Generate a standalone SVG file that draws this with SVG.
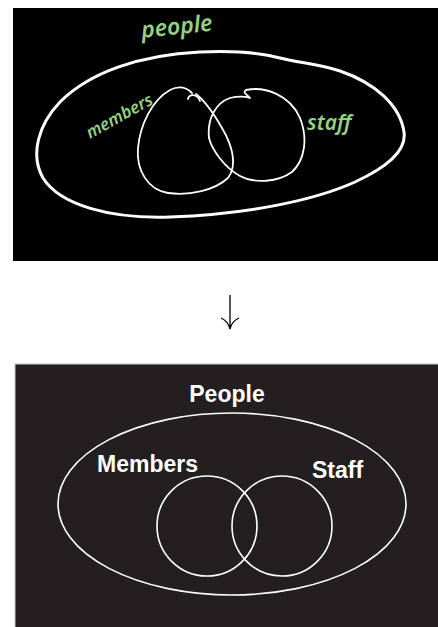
<svg xmlns="http://www.w3.org/2000/svg" width="438" height="627" viewBox="0 0 438 627">
<style>
.hand{fill:none;stroke:#fff;stroke-linecap:round;stroke-linejoin:round}
.ink{font-family:"Noto Sans","DejaVu Sans",sans-serif;font-style:italic;font-weight:600;fill:#94d081}
.shape{fill:none;stroke:#fff;stroke-width:1.6}
.lbl{font-family:"Liberation Sans",Arial,sans-serif;font-weight:bold;font-size:23px;fill:#fff}
</style>
<rect width="438" height="627" fill="#fff"/>
<g id="sketch">
<rect x="13" y="8" width="425" height="253" fill="#000"/>
<path class="hand" stroke-width="3" d="M200,52 C240,50 265,54 280,58 C300,63 320,64 340,71 C375,83 400,105 404,132 C407,152 385,168 355,182 C315,200 250,214 170,217 C110,219 60,205 43,178 C30,155 38,125 60,102 C90,72 140,55 200,52 Z"/>
<path class="hand" stroke-width="1.8" d="M192,93 C186,87 178,86 170,90 C152,100 140,125 138,148 C136,170 148,190 168,193 C190,196 215,190 228,178 C238,165 232,145 222,128 C214,114 205,101 196,94"/>
<path class="hand" stroke-width="1.8" d="M188,99 C189,94 197,93 200,101"/>
<path class="hand" stroke-width="1.8" d="M250,98 C247,94 242,93 246,90 C265,86 290,95 300,118 C308,138 305,160 292,172 C278,182 255,184 240,176 C225,168 212,150 209,138 C207,120 215,103 230,98 C238,96 244,96 250,98"/>
<text class="ink" x="142" y="38" font-size="23" transform="rotate(-6 142 38)">people</text>
<text class="ink" x="90" y="139" font-size="17" transform="rotate(-29 90 139)">members</text>
<text class="ink" x="307" y="130" font-size="21">staff</text>
</g>
<g id="connectors">
<path d="M230,295 V329 M221,318 Q228,321 230,329 Q232,321 239,318" fill="none" stroke="#000" stroke-width="1.3"/>
</g>
<g id="venn">
<rect x="15" y="364" width="430" height="270" fill="#231f20" stroke="#c8c8c8" stroke-width="1"/>
<g id="people"><ellipse class="shape" cx="232" cy="504" rx="174" ry="91"/><text class="lbl" x="227" y="402" text-anchor="middle">People</text></g>
<g id="members"><circle class="shape" cx="207" cy="526" r="50"/><text class="lbl" x="97" y="472">Members</text></g>
<g id="staff"><circle class="shape" cx="282" cy="526" r="50"/><text class="lbl" x="312" y="478">Staff</text></g>
</g>
</svg>
